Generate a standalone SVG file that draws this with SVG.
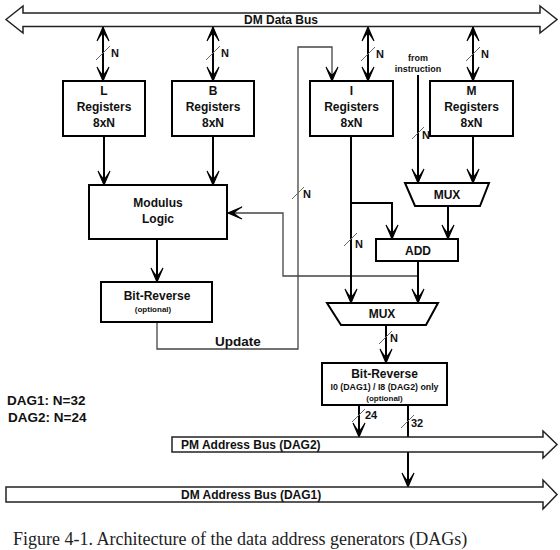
<svg xmlns="http://www.w3.org/2000/svg" width="560" height="550" viewBox="0 0 560 550">
<style>
.box{fill:#fff;stroke:#000;stroke-width:2}
.bus{fill:#fff;stroke:#222;stroke-width:1.5}
.w{fill:none;stroke:#000;stroke-width:2}
.g{fill:none;stroke:#444;stroke-width:1.3}
.sl{stroke:#666;stroke-width:1}
text{font-family:"Liberation Sans",Arial,sans-serif;font-weight:bold;fill:#111}
.t12{font-size:12px;text-anchor:middle}
.t11{font-size:12px}
.n{font-size:11px}
.s8{font-size:8px;text-anchor:middle}
.s85{font-size:8.8px;text-anchor:middle}
.t13{font-size:13.5px}
.cap{font-family:"Liberation Serif","Times New Roman",serif;font-weight:normal;font-size:18px;fill:#222}
</style>
<defs>
<marker id="ah" markerUnits="userSpaceOnUse" markerWidth="16" markerHeight="14" viewBox="-15 -7 16 14" refX="0" refY="0" orient="auto-start-reverse">
<path d="M0,0 L-14,-6 Q-7,-2 -6,0 Q-7,2 -14,6 Z" fill="#000" stroke="#000" stroke-width="1.1"/>
</marker>
</defs>

<g id="connectors">
<path class="w" d="M103,27 V81" marker-start="url(#ah)" marker-end="url(#ah)"/>
<path class="w" d="M213,27 V81" marker-start="url(#ah)" marker-end="url(#ah)"/>
<path class="w" d="M368,27 V81" marker-start="url(#ah)" marker-end="url(#ah)"/>
<path class="w" d="M473,27 V81" marker-start="url(#ah)" marker-end="url(#ah)"/>
<path class="w" d="M104,136 V185" marker-end="url(#ah)"/>
<path class="w" d="M213,136 V185" marker-end="url(#ah)"/>
<path class="w" d="M157,239 V282" marker-end="url(#ah)"/>
<path class="g" d="M157,322 V349 H298 V47 H332 V81" marker-end="url(#ah)"/>
<path class="g" d="M418,276 H283 V213 H228" marker-end="url(#ah)"/>
<path class="w" d="M351,136 V303" marker-end="url(#ah)"/>
<path class="w" d="M351,203 H392 V239" marker-end="url(#ah)"/>
<path class="w" d="M418,75 V183" marker-end="url(#ah)"/>
<path class="w" d="M473,136 V183" marker-end="url(#ah)"/>
<path class="w" d="M448,206 V239" marker-end="url(#ah)"/>
<path class="w" d="M418,261 V303" marker-end="url(#ah)"/>
<path class="w" d="M386,325 V363" marker-end="url(#ah)"/>
<path class="w" d="M359,405 V437" marker-end="url(#ah)"/>
<path class="w" d="M408,405 V487" marker-end="url(#ah)"/>
<g class="sl">
<line x1="96" y1="60" x2="110" y2="46"/>
<line x1="206" y1="60" x2="220" y2="46"/>
<line x1="361" y1="61" x2="375" y2="47"/>
<line x1="466" y1="61" x2="480" y2="47"/>
<line x1="412" y1="139" x2="424" y2="127"/>
<line x1="292" y1="199" x2="304" y2="187"/>
<line x1="344" y1="246" x2="357" y2="233"/>
<line x1="379" y1="344" x2="392" y2="331"/>
<line x1="352" y1="422" x2="365" y2="409"/>
<line x1="401" y1="428" x2="414" y2="415"/>
</g>
<text class="n" x="111" y="57">N</text>
<text class="n" x="221" y="57">N</text>
<text class="n" x="376" y="58">N</text>
<text class="n" x="481" y="58">N</text>
<text class="n" x="422" y="139">N</text>
<text class="n" x="303" y="198">N</text>
<text class="n" x="355" y="248">N</text>
<text class="n" x="390" y="342">N</text>
<text class="n" x="365" y="419">24</text>
<text class="n" x="411" y="427">32</text>
<text class="t13" x="238" y="346" text-anchor="middle">Update</text>
<text style="font-size:9px" x="418" y="61" text-anchor="middle">from</text>
<text style="font-size:9px" x="418" y="72" text-anchor="middle">instruction</text>
</g>

<g id="dm-data-bus">
<polygon class="bus" points="6,19.5 23,6 23,13 540,13 540,6 557,19.5 540,33 540,26.5 23,26.5 23,33"/>
<text class="t11" x="281" y="24" text-anchor="middle">DM Data Bus</text>
</g>
<g id="l-registers">
<rect class="box" x="63" y="81" width="82" height="55"/>
<text class="t12" x="104" y="95">L</text>
<text class="t12" x="104" y="111">Registers</text>
<text class="t12" x="104" y="127">8xN</text>
</g>
<g id="b-registers">
<rect class="box" x="172" y="81" width="82" height="55"/>
<text class="t12" x="213" y="95">B</text>
<text class="t12" x="213" y="111">Registers</text>
<text class="t12" x="213" y="127">8xN</text>
</g>
<g id="i-registers">
<rect class="box" x="310" y="81" width="83" height="55"/>
<text class="t12" x="351.5" y="95">I</text>
<text class="t12" x="351.5" y="111">Registers</text>
<text class="t12" x="351.5" y="127">8xN</text>
</g>
<g id="m-registers">
<rect class="box" x="430" y="81" width="83" height="55"/>
<text class="t12" x="471.5" y="95">M</text>
<text class="t12" x="471.5" y="111">Registers</text>
<text class="t12" x="471.5" y="127">8xN</text>
</g>
<g id="modulus-logic">
<rect class="box" x="89" y="185" width="138" height="54"/>
<text class="t12" x="158" y="207">Modulus</text>
<text class="t12" x="158" y="223">Logic</text>
</g>
<g id="bit-reverse-1">
<rect class="box" x="101" y="282" width="111" height="40"/>
<text class="t12" x="157" y="300">Bit-Reverse</text>
<text class="s8" x="153" y="312">(optional)</text>
</g>
<g id="mux-1">
<polygon class="box" points="405,183 489,183 480,206 415,206"/>
<text class="t12" x="447" y="199">MUX</text>
</g>
<g id="add">
<rect class="box" x="376" y="239" width="82" height="22"/>
<text class="t12" x="418" y="255">ADD</text>
</g>
<g id="mux-2">
<polygon class="box" points="327,303 438,303 426,325 341,325"/>
<text class="t12" x="382" y="318">MUX</text>
</g>
<g id="bit-reverse-2">
<rect class="box" x="322" y="363" width="125" height="42"/>
<text class="t12" x="384.5" y="378">Bit-Reverse</text>
<text class="s85" x="384.5" y="390">I0 (DAG1) / I8 (DAG2) only</text>
<text class="s8" x="384.5" y="401">(optional)</text>
</g>
<g id="pm-address-bus">
<polygon class="bus" points="172,437 543,437 543,431 557,444.5 543,458 543,452 172,452"/>
<text class="t11" x="181" y="449">PM Address Bus (DAG2)</text>
</g>
<g id="dm-address-bus">
<polygon class="bus" points="6,487 543,487 543,480 557,494.5 543,509 543,502 6,502"/>
<text class="t11" x="181" y="499">DM Address Bus (DAG1)</text>
</g>
<g id="legend">
<text class="t13" x="7" y="405">DAG1: N=32</text>
<text class="t13" x="8" y="422">DAG2: N=24</text>
</g>
<text class="cap" x="13" y="545">Figure 4-1. Architecture of the data address generators (DAGs)</text>
</svg>
